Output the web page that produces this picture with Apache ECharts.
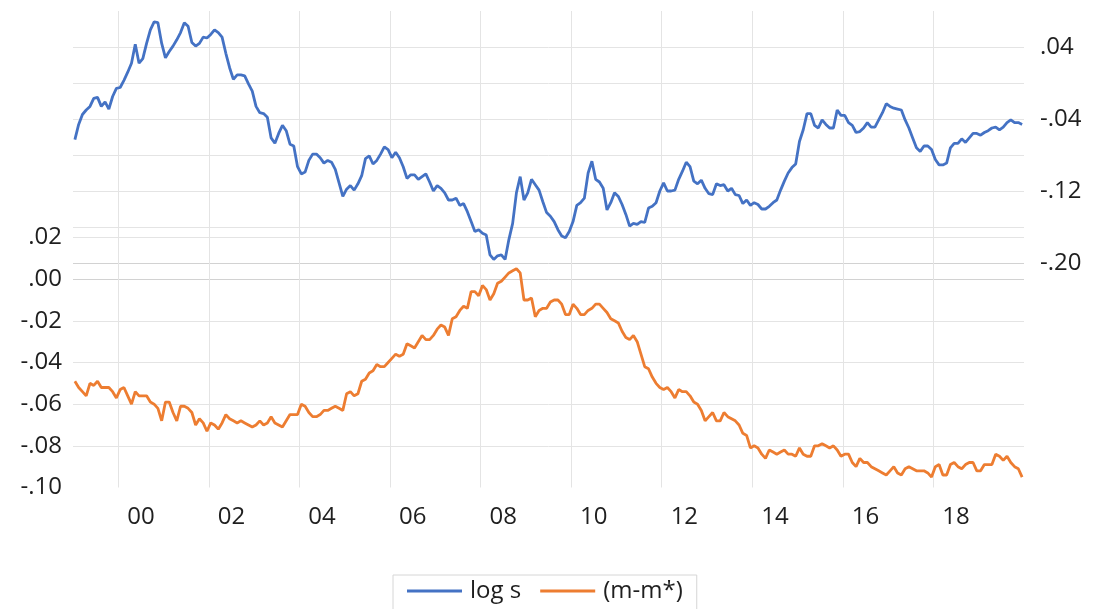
<!DOCTYPE html>
<html>
<head>
<meta charset="utf-8">
<script src="https://cdn.jsdelivr.net/npm/echarts@6/dist/echarts.min.js"></script>
<style>
html,body{margin:0;padding:0;background:#fff;}
#chart{width:1096px;height:609px;}
</style>
</head>
<body>
<div id="chart"></div>
<script>
// Monthly observations, Jan 1999 .. Dec 2019
const startYear = 1999;
const seriesNames = ['log s', '(m-m*)'];

// log s (right axis)
const logS = [
  -0.063,-0.046,-0.035,-0.030,-0.026,-0.017,-0.016,-0.026,-0.021,-0.029,-0.015,-0.006,
  -0.005,0.003,0.012,0.022,0.043,0.022,0.027,0.044,0.059,0.068,0.067,0.044,
  0.028,0.035,0.041,0.048,0.056,0.067,0.063,0.045,0.041,0.044,0.051,0.050,
  0.054,0.059,0.056,0.051,0.033,0.017,0.004,0.009,0.009,0.008,-0.001,-0.009,
  -0.026,-0.033,-0.034,-0.038,-0.061,-0.067,-0.056,-0.047,-0.053,-0.068,-0.070,-0.093,
  -0.101,-0.099,-0.086,-0.079,-0.079,-0.083,-0.089,-0.086,-0.088,-0.096,-0.111,-0.126,
  -0.118,-0.114,-0.119,-0.112,-0.103,-0.084,-0.081,-0.090,-0.086,-0.079,-0.071,-0.074,
  -0.083,-0.077,-0.083,-0.093,-0.106,-0.102,-0.102,-0.107,-0.104,-0.101,-0.110,-0.120,
  -0.114,-0.117,-0.122,-0.130,-0.130,-0.128,-0.136,-0.134,-0.143,-0.154,-0.165,-0.163,
  -0.167,-0.169,-0.191,-0.196,-0.192,-0.191,-0.196,-0.174,-0.156,-0.122,-0.104,-0.130,
  -0.122,-0.107,-0.113,-0.119,-0.132,-0.144,-0.148,-0.154,-0.163,-0.170,-0.172,-0.165,
  -0.154,-0.136,-0.133,-0.128,-0.100,-0.087,-0.107,-0.110,-0.117,-0.141,-0.133,-0.122,
  -0.126,-0.135,-0.146,-0.159,-0.156,-0.157,-0.154,-0.155,-0.139,-0.137,-0.133,-0.120,
  -0.111,-0.120,-0.120,-0.119,-0.107,-0.098,-0.088,-0.093,-0.109,-0.112,-0.108,-0.117,
  -0.123,-0.124,-0.112,-0.114,-0.113,-0.120,-0.117,-0.124,-0.125,-0.134,-0.130,-0.136,
  -0.133,-0.135,-0.140,-0.140,-0.137,-0.133,-0.130,-0.119,-0.109,-0.100,-0.094,-0.090,
  -0.065,-0.052,-0.034,-0.034,-0.047,-0.050,-0.041,-0.046,-0.050,-0.050,-0.030,-0.036,
  -0.036,-0.044,-0.047,-0.055,-0.054,-0.050,-0.044,-0.049,-0.049,-0.041,-0.033,-0.023,
  -0.026,-0.028,-0.029,-0.030,-0.041,-0.050,-0.061,-0.072,-0.076,-0.070,-0.070,-0.074,
  -0.085,-0.091,-0.091,-0.089,-0.072,-0.067,-0.067,-0.062,-0.066,-0.061,-0.056,-0.056,
  -0.058,-0.055,-0.053,-0.050,-0.049,-0.052,-0.049,-0.044,-0.041,-0.044,-0.044,-0.046
];

// (m-m*) (left axis)
const mGap = [
  -0.049,-0.052,-0.054,-0.056,-0.050,-0.051,-0.049,-0.052,-0.052,-0.052,-0.054,-0.057,
  -0.053,-0.052,-0.056,-0.060,-0.054,-0.056,-0.056,-0.056,-0.059,-0.060,-0.062,-0.068,
  -0.059,-0.059,-0.064,-0.068,-0.061,-0.061,-0.062,-0.064,-0.070,-0.067,-0.069,-0.073,
  -0.069,-0.070,-0.072,-0.069,-0.065,-0.067,-0.068,-0.069,-0.068,-0.069,-0.070,-0.071,
  -0.070,-0.068,-0.070,-0.069,-0.066,-0.069,-0.070,-0.071,-0.068,-0.065,-0.065,-0.065,
  -0.060,-0.061,-0.064,-0.066,-0.066,-0.065,-0.063,-0.063,-0.062,-0.061,-0.062,-0.063,
  -0.055,-0.054,-0.056,-0.055,-0.049,-0.048,-0.045,-0.044,-0.041,-0.042,-0.042,-0.040,
  -0.038,-0.036,-0.037,-0.036,-0.031,-0.032,-0.033,-0.030,-0.027,-0.029,-0.029,-0.027,
  -0.024,-0.022,-0.023,-0.027,-0.019,-0.018,-0.015,-0.013,-0.014,-0.006,-0.006,-0.008,
  -0.003,-0.005,-0.010,-0.007,-0.002,-0.001,0.001,0.003,0.004,0.005,0.003,-0.010,
  -0.010,-0.009,-0.018,-0.015,-0.014,-0.014,-0.011,-0.010,-0.010,-0.012,-0.017,-0.017,
  -0.012,-0.014,-0.017,-0.017,-0.015,-0.014,-0.012,-0.012,-0.014,-0.016,-0.019,-0.020,
  -0.021,-0.025,-0.028,-0.029,-0.027,-0.030,-0.036,-0.042,-0.043,-0.047,-0.050,-0.052,
  -0.053,-0.052,-0.054,-0.057,-0.053,-0.054,-0.054,-0.056,-0.059,-0.060,-0.063,-0.068,
  -0.066,-0.064,-0.068,-0.068,-0.064,-0.066,-0.067,-0.068,-0.070,-0.074,-0.075,-0.081,
  -0.080,-0.081,-0.084,-0.086,-0.082,-0.083,-0.084,-0.083,-0.082,-0.084,-0.084,-0.085,
  -0.081,-0.084,-0.085,-0.085,-0.080,-0.080,-0.079,-0.080,-0.081,-0.080,-0.082,-0.085,
  -0.084,-0.084,-0.088,-0.090,-0.086,-0.088,-0.088,-0.090,-0.091,-0.092,-0.093,-0.094,
  -0.092,-0.090,-0.093,-0.094,-0.091,-0.090,-0.091,-0.092,-0.092,-0.092,-0.093,-0.095,
  -0.090,-0.089,-0.094,-0.094,-0.089,-0.088,-0.090,-0.091,-0.089,-0.088,-0.088,-0.092,
  -0.092,-0.089,-0.089,-0.089,-0.084,-0.085,-0.087,-0.085,-0.088,-0.090,-0.091,-0.095
];

const xTickLabels = ['00','02','04','06','08','10','12','14','16','18'];
const leftTickLabels = ['-.10','-.08','-.06','-.04','-.02','.00','.02'];
const rightTickLabels = ['.04','-.04','-.12','-.20'];

const BLUE = '#4472C4', ORANGE = '#ED7D31';
const FONT = 'Open Sans';
const TXT = '#1f1f1f';
const GRID_C = '#e4e4e4';
const AXIS_C = '#d2d2d2';

function toPairs(arr){ return arr.map((v,k)=>[startYear + (k+0.5)/12, v]); }
function fmt(v){ return v.toFixed(2).replace('0.', '.'); }

const endYear = startYear + logS.length / 12;      // 2020
const gridL = 73, gridR = 72;
const plotW = 1096 - gridL - gridR;
const pxPerYear = plotW / (endYear - startYear);
const gridStartYear = 1998;                          // even year, so 2-year gridlines fall on even years
const gridExtL = gridL - (startYear - gridStartYear) * pxPerYear;
const labelExtL = gridL - 0.5 * pxPerYear;           // labels sit mid-year

const TOP = {top:11, height:252};
const BOT = {top:237.5, height:250};

const hiddenAxis = {axisLine:{show:false}, axisTick:{show:false}, axisLabel:{show:false}, splitLine:{show:false}};

const chart = echarts.init(document.getElementById('chart'), null, {renderer:'canvas'});
chart.setOption({
  animation:false,
  backgroundColor:'#fff',
  grid:[
    Object.assign({left:gridL, right:gridR}, TOP),        // 0: log s
    Object.assign({left:gridL, right:gridR}, BOT),        // 1: m-m*
    Object.assign({left:gridExtL, right:gridR}, TOP),     // 2: vertical gridlines top
    Object.assign({left:gridExtL, right:gridR}, BOT),     // 3: vertical gridlines bottom
    Object.assign({left:labelExtL, right:gridR}, BOT)     // 4: year labels
  ],
  xAxis:[
    Object.assign({type:'value', gridIndex:0, min:startYear, max:endYear}, hiddenAxis),
    Object.assign({type:'value', gridIndex:1, min:startYear, max:endYear}, hiddenAxis),
    {type:'value', gridIndex:2, min:gridStartYear, max:endYear, interval:2,
     axisLine:{show:false}, axisTick:{show:false}, axisLabel:{show:false},
     splitLine:{show:true, showMinLine:false, showMaxLine:false, lineStyle:{color:GRID_C, width:1}}},
    {type:'value', gridIndex:3, min:gridStartYear, max:endYear, interval:2,
     axisLine:{show:false}, axisTick:{show:false}, axisLabel:{show:false},
     splitLine:{show:true, showMinLine:false, showMaxLine:false, lineStyle:{color:GRID_C, width:1}}},
    {type:'value', gridIndex:4, position:'bottom', min:gridStartYear, max:endYear - 0.5, interval:2,
     axisLine:{show:false}, axisTick:{show:false}, splitLine:{show:false},
     axisLabel:{show:true, margin:18, fontFamily:FONT, fontSize:24, color:TXT,
       showMinLabel:true, showMaxLabel:true,
       formatter:function(v){
         const idx = (v - 2000) / 2;
         if (idx < -1e-6 || Math.abs(idx - Math.round(idx)) > 1e-6) return '';
         return xTickLabels[Math.round(idx)] || '';
       }}}
  ],
  yAxis:[
    {type:'value', gridIndex:0, position:'right', min:-0.20, max:0.08, interval:0.04,
     axisLine:{show:false}, axisTick:{show:false},
     splitLine:{show:true, showMaxLine:false,
       lineStyle:{color:[AXIS_C, GRID_C, GRID_C, GRID_C, GRID_C, GRID_C, GRID_C], width:1}},
     axisLabel:{margin:16, fontFamily:FONT, fontSize:24, color:TXT, align:'left',
       formatter:function(v){ const s = fmt(v); return rightTickLabels.indexOf(s) >= 0 ? s : ''; }}},
    {type:'value', gridIndex:1, position:'left', min:-0.10, max:0.02, interval:0.02,
     axisLine:{show:false}, axisTick:{show:false},
     splitLine:{show:true, showMinLine:false,
       lineStyle:{color:[GRID_C, GRID_C, GRID_C, GRID_C, AXIS_C, GRID_C], width:1}},
     axisLabel:{margin:11, fontFamily:FONT, fontSize:24, color:TXT,
       formatter:function(v){ const s = fmt(v); return leftTickLabels.indexOf(s) >= 0 ? s : ''; }}},
    Object.assign({type:'value', gridIndex:2, min:0, max:1}, hiddenAxis),
    Object.assign({type:'value', gridIndex:3, min:0, max:1}, hiddenAxis),
    Object.assign({type:'value', gridIndex:4, min:0, max:1}, hiddenAxis)
  ],
  legend:{
    left:393, top:575,
    data:seriesNames,
    icon:'rect', itemWidth:55, itemHeight:3, itemGap:19,
    padding:[4,14,30,14],
    borderColor:'#d6d6d6', borderWidth:1,
    textStyle:{fontFamily:FONT, fontSize:24, color:TXT, padding:[0,0,0,3]}
  },
  series:[
    {name:seriesNames[0], type:'line', xAxisIndex:0, yAxisIndex:0, data:toPairs(logS),
     showSymbol:false, symbol:'none', lineStyle:{color:BLUE, width:2.8}, itemStyle:{color:BLUE}, z:3},
    {name:seriesNames[1], type:'line', xAxisIndex:1, yAxisIndex:1, data:toPairs(mGap),
     showSymbol:false, symbol:'none', lineStyle:{color:ORANGE, width:2.8}, itemStyle:{color:ORANGE}, z:2}
  ]
});
</script>
</body>
</html>
